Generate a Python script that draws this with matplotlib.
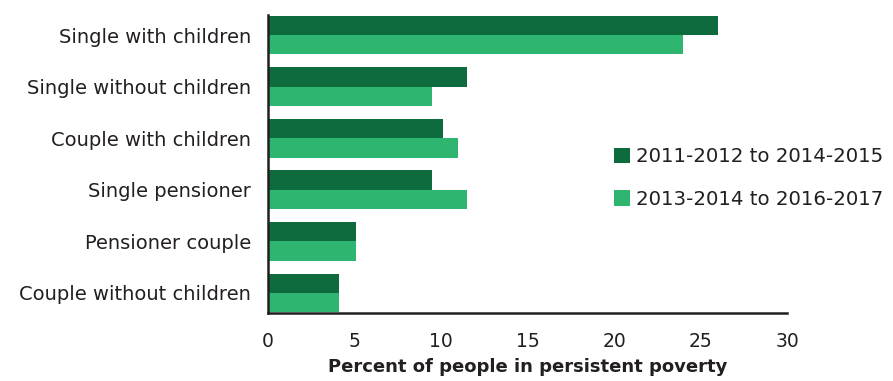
import matplotlib
matplotlib.use("Agg")
import matplotlib.pyplot as plt
import numpy as np
from matplotlib.patches import Patch

categories = ["Single with children", "Single without children", "Couple with children",
              "Single pensioner", "Pensioner couple", "Couple without children"]
series_names = ["2011-2012 to 2014-2015", "2013-2014 to 2016-2017"]
values_2011 = [26.0, 11.5, 10.1, 9.5, 5.1, 4.1]
values_2013 = [24.0, 9.5, 11.0, 11.5, 5.1, 4.1]
x_ticks = [0, 5, 10, 15, 20, 25, 30]
x_label = "Percent of people in persistent poverty"

dark = "#0e6b3d"
light = "#2eb570"
txt = "#231f20"

plt.rcParams['font.family'] = ['DejaVu Sans']

fig = plt.figure(figsize=(8.93, 3.81), dpi=100)
ax = fig.add_axes([268/893, 1-313/381, (787-268)/893, (313-15)/381])

y = np.arange(len(categories))
h = 0.375
ax.barh(y - h/2, values_2011, height=h, color=dark, label=series_names[0])
ax.barh(y + h/2, values_2013, height=h, color=light, label=series_names[1])

ax.set_ylim(len(categories) - 1 + 0.39, -0.39)
ax.set_xlim(0, 30)
ax.set_xticks(x_ticks)
ax.set_xticklabels([str(t) for t in x_ticks])
ax.set_yticks(y)
ax.set_yticklabels(categories)
ax.tick_params(axis='y', length=0, pad=12, labelsize=14, labelcolor=txt)
ax.tick_params(axis='x', length=0, pad=14, labelsize=13.5, labelcolor=txt)
for s in ["top", "right"]:
    ax.spines[s].set_visible(False)
for s in ["left", "bottom"]:
    ax.spines[s].set_linewidth(1.8)
    ax.spines[s].set_color("#231f20")
ax.set_xlabel(x_label, fontsize=13, color=txt, fontweight='bold', labelpad=5)

handles = [Patch(facecolor=dark), Patch(facecolor=light)]
ax.legend(handles, series_names, loc='center left',
          bbox_to_anchor=(614/893, 1-178/381), bbox_transform=fig.transFigure,
          frameon=False, handlelength=0.8, handleheight=0.8,
          handletextpad=0.3, labelspacing=1.2, borderpad=0, borderaxespad=0,
          prop={'family': ['DejaVu Sans'], 'size': 14.2},
          labelcolor=txt)

fig.savefig("out.png", dpi=100)
